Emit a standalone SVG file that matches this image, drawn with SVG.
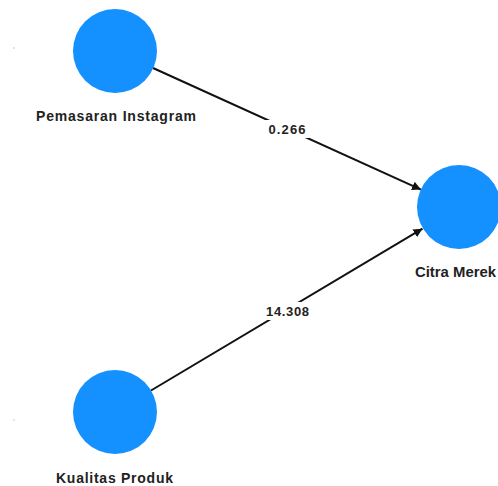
<svg xmlns="http://www.w3.org/2000/svg" width="498" height="486" viewBox="0 0 498 486">
<style>
.node{fill:#1490ff;}
.lbl{font-family:"Liberation Sans",Arial,sans-serif;font-weight:bold;font-size:14px;fill:#222;}
.elbl{font-family:"Liberation Sans",Arial,sans-serif;font-weight:bold;font-size:13px;fill:#222;text-anchor:middle;}
.edge{stroke:#111;stroke-width:2;fill:none;marker-end:url(#arr);}
</style>
<defs>
<marker id="arr" viewBox="0 0 10 10" refX="10" refY="5" markerWidth="9" markerHeight="9" markerUnits="userSpaceOnUse" orient="auto">
<path d="M0,0 L10,5 L0,10 z" fill="#111"/>
</marker>
</defs>
<rect width="498" height="486" fill="#fff"/>
<g id="connectors">
<line class="edge" x1="153" y1="68" x2="421" y2="189.6"/>
<line class="edge" x1="151" y1="390.5" x2="422.5" y2="228.7"/>
<rect x="265" y="120" width="44" height="18" fill="#fff"/>
<text class="elbl" x="287" y="134" textLength="37" lengthAdjust="spacing">0.266</text>
<rect x="263" y="302" width="48" height="18" fill="#fff"/>
<text class="elbl" x="287.5" y="316" textLength="43" lengthAdjust="spacing">14.308</text>
</g>
<g id="pemasaran">
<circle class="node" cx="115" cy="51" r="42"/>
<text class="lbl" x="36" y="121" textLength="160" lengthAdjust="spacing">Pemasaran Instagram</text>
<rect x="13.5" y="47.5" width="1" height="1" fill="#999"/>
</g>
<g id="citra">
<circle class="node" cx="459" cy="207" r="42"/>
<text class="lbl" x="415" y="277" textLength="81" lengthAdjust="spacingAndGlyphs">Citra Merek</text>
</g>
<g id="kualitas">
<circle class="node" cx="115" cy="412" r="42"/>
<text class="lbl" x="56" y="483" textLength="117" lengthAdjust="spacing">Kualitas Produk</text>
<rect x="13.5" y="419.5" width="1" height="1" fill="#999"/>
</g>
</svg>
